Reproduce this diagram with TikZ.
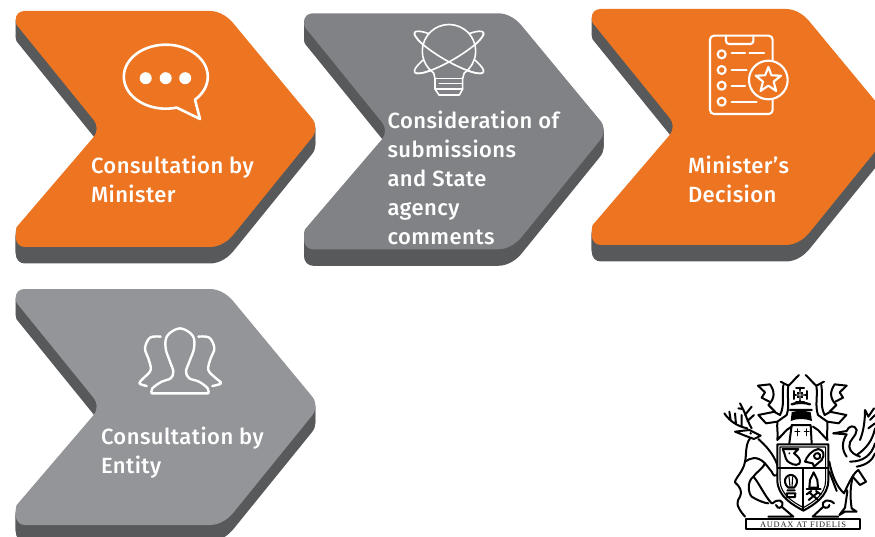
\documentclass[tikz,border=0pt]{standalone}
\usepackage{fontspec}
\setmainfont[LetterSpace=2]{Fira Sans Medium}
\newfontfamily\crestfont[LetterSpace=9]{Liberation Serif}
\usetikzlibrary{calc}
\definecolor{chorange}{HTML}{ED7522}
\definecolor{chgrey}{HTML}{808285}
\definecolor{chlight}{HTML}{939598}
\definecolor{chshadow}{HTML}{58595B}
\newcommand{\chevpath}{(1,14) .. controls (0,12) and (0,10) .. (0,9) .. controls (0,3) and (4,0) .. (9,0) -- (194,0) .. controls (204,0) and (213,6) .. (219,14) -- (296,107) .. controls (301,113) and (301,121) .. (296,127) -- (219,222) .. controls (213,230) and (204,236) .. (194,236) -- (9,236) .. controls (4,236) and (0,232) .. (0,226) .. controls (0,223) and (0,219) .. (1,216) -- (78,126) .. controls (82,121) and (82,114) .. (78,109) -- cycle}
\newcommand{\chevron}[3]{\begin{scope}[shift={(#1,#2)}]
\foreach \d in {1,3,...,15,16.5}{\fill[chshadow,shift={(0,\d)}] \chevpath;}
\fill[#3] \chevpath;
\end{scope}}
\tikzset{
  x=1pt,y=-1pt,
  chevlabel/.style={anchor=north west,inner sep=0pt,outer sep=0pt,align=left,text=white,font=\fontsize{22}{29}\selectfont},
  iconline/.style={draw=white,line width=2.6pt,line join=round,line cap=round},
  thinicon/.style={draw=white,line width=1.6pt,line join=round,line cap=round},
  clipline/.style={draw=white,line width=2.1pt,line join=round,line cap=round},
  peopleline/.style={draw=white,line width=2.4pt,line join=round,line cap=round},
  crest/.style={draw=black,line width=2pt,line join=round,line cap=round},
  crestfill/.style={crest,fill=white},
  crestthin/.style={draw=black,line width=1.1pt,line join=round,line cap=round}
}
\begin{document}
\begin{tikzpicture}
\useasboundingbox (0,0) rectangle (875,537);
\clip (0,0) rectangle (875,537);
\fill[white] (0,0) rectangle (875,537);
\chevron{15.7}{11}{chorange}
\chevron{304}{13.3}{chgrey}
\chevron{591.7}{9}{chorange}
\chevron{15.7}{289}{chlight}

% labels
\node[chevlabel] (lab1) at (91,156) {Consultation by\\Minister};
\node[chevlabel] (lab2) at (387.5,110.5) {Consideration of\\submissions\\and State\\agency\\comments};
\node[chevlabel] (lab3) at (688,156) {Minister’s\\Decision};
\node[chevlabel] (lab4) at (101,427) {Consultation by\\Entity};

% speech bubble
\begin{scope}[shift={(165.7,76.7)}]
\draw[iconline] (11,30.9) arc[start angle=75,end angle=406,x radius=42,y radius=32] -- (34.3,42.3) -- cycle;
\fill[white] (-20,1.5) circle[radius=6] (0,1.5) circle[radius=6] (19.5,1.5) circle[radius=6];
\end{scope}

% bulb
\begin{scope}[shift={(390,15)},scale=1/3]
\coordinate (bc) at (177,112);
\draw[thinicon,rotate around={-30:(bc)}] (bc) ellipse[x radius=119,y radius=25];
\draw[thinicon,rotate around={30:(bc)}] (bc) ellipse[x radius=119,y radius=25];
\draw[thinicon,fill=chgrey] (131,174) arc[start angle=125,end angle=415,radius=80] -- (218,190) -- (218,222) -- (208,240) -- (147,240) -- (135,222) -- (135,190) -- cycle;
\draw[thinicon] (135,190) -- (218,190) (148,205) -- (218,205) (135,222) -- (218,222);
\draw[thinicon,rotate around={-30:(bc)}] (bc) ++(119,0) arc[start angle=0,end angle=180,x radius=119,y radius=25];
\draw[thinicon,rotate around={30:(bc)}] (bc) ++(119,0) arc[start angle=0,end angle=180,x radius=119,y radius=25];
\end{scope}

% clipboard
\begin{scope}[shift={(690,20)},scale=1/3]
\draw[clipline,rounded corners=4pt] (60,47) rectangle (248,282);
\draw[clipline,rounded corners=3pt] (108,47) -- (108,72) -- (190,72) -- (190,47);
\foreach \yy in {103,150,197,245}{\draw[clipline] (95,\yy) circle[radius=12];}
\draw[clipline] (125,100) -- (165,100) (178,100) -- (222,100) (125,150) -- (170,150) (125,197) -- (165,197) (125,245) -- (200,245);
\draw[clipline,fill=chorange] (235,180) circle[radius=58];
\draw[clipline] (235,141)
 -- ++(9.5,25) -- ++(28.5,1) -- ++(-22,18) -- ++(7.5,28) -- ++(-23.5,-16)
 -- ++(-23.5,16) -- ++(7.5,-28) -- ++(-22,-18) -- ++(28.5,-1) -- cycle;
\end{scope}

% people
\begin{scope}[shift={(120,315)},scale=1/3]
\draw[peopleline] plot[smooth,tension=.6] coordinates {(95,235) (97,220) (125,200) (152,190) (160,170) (150,140) (137,100) (142,62) (180,40) (218,62) (222,100) (208,140) (198,170) (208,190) (237,200) (263,220) (265,235)} -- cycle;
\draw[peopleline] plot[smooth,tension=.6] coordinates {(122,65) (90,68) (75,100) (85,130) (92,165) (70,190) (58,205) (80,213)};
\draw[peopleline] plot[smooth,tension=.6] coordinates {(235,65) (268,68) (283,100) (272,130) (265,165) (288,190) (303,205) (277,213)};
\end{scope}

% crest
\begin{scope}[shift={(690,365)},scale=1/3]
% brolga wing
\draw[crest] (510,225) .. controls (520,200) and (525,170) .. (525,135) (525,135) -- (535,155) -- (552,130) (540,165) -- (555,150) (535,190) -- (555,175) (500,270) .. controls (530,250) and (548,225) .. (555,190) (480,290) .. controls (520,290) and (545,270) .. (555,235) (500,305) .. controls (530,300) and (548,285) .. (555,265);
% brolga neck and body
\draw[crest] (430,205) -- (470,198) .. controls (475,182) and (495,178) .. (500,195) .. controls (500,215) and (475,225) .. (478,245) .. controls (480,262) and (495,270) .. (510,275);
\draw[crest] (430,205) -- (470,208) .. controls (455,230) and (455,255) .. (470,275);
\draw[crest] (418,290) .. controls (425,330) and (440,365) .. (462,385) .. controls (478,350) and (490,325) .. (505,315);
\draw[crest] (505,315) -- (528,350) -- (510,360) -- (488,335) (418,320) -- (440,378);
\draw[crest] (490,330) .. controls (480,360) and (480,400) .. (485,430) -- (500,440) -- (465,440) -- (448,450) -- (465,428) -- (472,380) -- (468,372);
% stag
\draw[crest] (185,190) .. controls (170,165) and (165,140) .. (150,115) (165,150) -- (185,125) (158,132) -- (145,130) (172,168) -- (192,150);
\draw[crest] (172,190) .. controls (145,185) and (120,170) .. (103,145) (122,165) -- (118,140) (138,178) -- (135,145) (155,185) -- (155,150);
\draw[crestfill] (135,200) -- (178,195) -- (212,212) -- (192,222) -- (165,212) -- cycle;
\fill[black] (182,205) circle[radius=4];
\draw[crest] (205,222) .. controls (225,240) and (250,265) .. (262,300) (180,220) .. controls (165,240) and (170,270) .. (165,290) .. controls (160,320) and (135,340) .. (135,352) .. controls (150,365) and (158,380) .. (150,395) .. controls (140,410) and (135,420) .. (165,455);
\draw[crest] (165,290) .. controls (180,280) and (200,270) .. (225,295) (190,335) .. controls (205,350) and (225,395) .. (245,415) (190,335) .. controls (170,350) and (175,385) .. (185,395) .. controls (200,405) and (225,415) .. (235,415) (225,295) .. controls (215,315) and (200,320) .. (190,335);
\draw[crest] (262,300) .. controls (270,330) and (255,345) .. (245,320) -- (225,295);
% mantling (both sides)
\foreach \mir/\msh in {1/0,-1/674}{
\begin{scope}[shift={(\msh,0)},xscale=\mir]
\draw[crest] (327,30) .. controls (315,40) and (305,55) .. (295,62) -- (272,50) (295,62) .. controls (290,95) and (300,120) .. (290,150);
\draw[crest] (280,60) .. controls (275,95) and (285,120) .. (270,150) -- (252,140);
\draw[crest] (204,62) -- (240,58) .. controls (255,80) and (255,100) .. (235,120) -- (255,140) -- (205,150) -- (228,175) -- (262,170) -- (290,150);
\draw[crest] (204,62) -- (225,82) -- (215,98) -- (238,110);
\draw[crest] (262,170) .. controls (260,190) and (265,205) .. (262,225) -- (290,195) -- (305,185);
\end{scope}}
% crown & cross
\draw[crest] (330,68) -- (330,112) (312,90) -- (350,90) (312,78) -- (312,102) (350,78) -- (350,102) (318,68) -- (342,68) (318,110) -- (342,110);
\fill[black] (322,80) rectangle (340,100);
\fill[white] (329,76) rectangle (331,105) (318,89) rectangle (344,91);
\draw[crest,line width=2.4pt] (305,118) .. controls (320,112) and (345,112) .. (360,118) (300,135) -- (365,135);
\fill[black] (305,142) .. controls (320,136) and (345,136) .. (362,142) -- (366,168) .. controls (345,160) and (320,160) .. (302,168) -- cycle;
% helm with crosses
\draw[crest] (305,180) -- (362,180) -- (365,235) (305,180) -- (298,235);
\draw[crest,line width=1.3pt] (322,192) -- (322,212) (315,199) -- (329,199) (350,192) -- (350,212) (343,199) -- (357,199);
% shield
\draw[crestfill] (262,238) -- (415,238) -- (415,345) .. controls (415,395) and (370,420) .. (340,437) .. controls (310,420) and (262,395) .. (262,345) -- cycle;
\draw[crestthin] (270,246) -- (407,246) -- (407,345) .. controls (407,390) and (368,412) .. (340,428) .. controls (312,412) and (270,390) .. (270,345) -- cycle;
\draw[crest] (262,310) -- (415,310) (338,310) -- (338,435);
% bull
\draw[crest] (278,252) -- (325,252) -- (312,265) .. controls (325,275) and (335,285) .. (328,296) .. controls (318,305) and (300,295) .. (292,288) .. controls (285,280) and (285,265) .. (278,252);
\fill[black] (298,265) circle[radius=3];
% ram
\draw[crest] (345,290) .. controls (350,275) and (365,255) .. (385,252) .. controls (402,255) and (405,270) .. (395,285) -- (372,305) -- (368,295) -- (345,290);
\draw[crest] (372,272) .. controls (375,260) and (395,262) .. (390,278) .. controls (383,285) and (372,282) .. (372,272);
% sheaf
\draw[crest] (290,335) .. controls (280,345) and (285,360) .. (295,368) -- (312,368) .. controls (322,358) and (325,345) .. (315,335) .. controls (308,328) and (298,328) .. (290,335);
\draw[crestthin] (297,335) -- (300,366) (308,335) -- (306,366);
\draw[crest] (292,376) -- (314,376) (290,385) -- (316,385) -- (315,396) -- (291,396) -- cycle;
% column
\draw[crest] (371,322) -- (360,345) -- (358,368) -- (384,368) -- (382,345) -- cycle;
\draw[crest] (350,372) -- (392,372);
% pick and hammer
\draw[crest] (357,382) -- (385,405) (384,382) -- (356,405) (350,388) -- (364,378) (378,378) -- (392,388);
% scrolls
\draw[crest] (248,415) .. controls (262,400) and (285,405) .. (275,425) .. controls (268,432) and (258,428) .. (258,420) (275,425) -- (310,455) (235,455) -- (310,455);
\draw[crest] (432,415) .. controls (418,400) and (392,405) .. (400,425) .. controls (408,432) and (418,428) .. (418,420) (400,425) -- (368,455) (368,455) -- (445,455);
% banner
\draw[crestfill] (168,462) rectangle (510,492);
\node[font=\crestfont\fontsize{8.4}{9}\selectfont,inner sep=0pt,text=black!85] (motto) at (339,478) {AUDAX AT FIDELIS};
\end{scope}
\end{tikzpicture}
\end{document}
